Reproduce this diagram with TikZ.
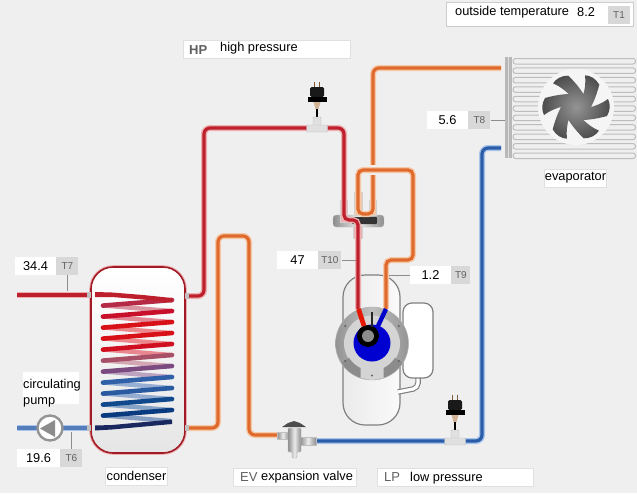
\documentclass[tikz,border=0pt]{standalone}
\usepackage{fontspec}
\setmainfont{Liberation Sans}
\usepackage{xcolor}
\usetikzlibrary{positioning}
\usetikzlibrary{calc}
\definecolor{bggray}{HTML}{EFEFEF}
\definecolor{taggray}{HTML}{D8D8D8}
\definecolor{tagtext}{HTML}{606060}
\definecolor{hotred}{HTML}{BE1F2C}
\definecolor{hotedge}{HTML}{EDB0B0}
\definecolor{warmorange}{HTML}{DF6A2C}
\definecolor{warmedge}{HTML}{F5C8A8}
\definecolor{coldblue}{HTML}{2A5CA8}
\definecolor{coldedge}{HTML}{A8C4EA}
\definecolor{coilnavy}{HTML}{1A2860}
\tikzset{
	x=1pt, y=-1pt,
	every node/.style={font=\fontsize{12.8}{16}\selectfont, inner sep=0pt},
	hotpipe/.style={line width=3.2pt, draw=hotred, rounded corners=6pt, preaction={draw=hotedge, line width=6pt}},
	warmpipe/.style={line width=3.2pt, draw=warmorange, rounded corners=6pt, preaction={draw=warmedge, line width=6pt}},
	coldpipe/.style={line width=3.2pt, draw=coldblue, rounded corners=6pt, preaction={draw=coldedge, line width=6pt}},
	valbox/.style={fill=white, minimum height=18pt},
	tagbox/.style={fill=taggray, minimum height=18pt, text=tagtext, font=\fontsize{10}{12}\selectfont},
	labelbox/.style={fill=white, draw=black!12, line width=0.7pt, minimum height=18pt},
	codetext/.style={text=tagtext, font=\fontsize{13}{16}\selectfont},
	leader/.style={draw=black!45, line width=0.8pt},
	sleeve/.style={draw=black!18, line width=0.5pt},
	metal/.style={left color=black!45, right color=black!45, middle color=black!8, draw=black!25, line width=0.4pt},
}
\begin{document}
\begin{tikzpicture}
	\useasboundingbox (0,0) rectangle (637,493);
	\fill[bggray] (0,0) rectangle (637,493);

	% draw compressor
	\draw[draw=black!50, line width=1.2pt, left color=black!8, right color=black!2, rounded corners=22pt] (343,275) rectangle (400,425);
	\draw[draw=black!50, line width=5.5pt, rounded corners=5pt] (418,375) -- (418,388) -- (398,392);
	\draw[draw=white, line width=3.2pt, rounded corners=5pt] (418,375) -- (418,388) -- (398,392);
	\draw[draw=black!50, line width=1.2pt, fill=white, rounded corners=9pt] (403,303) rectangle (433,378);

	% draw condenser
	\draw[draw=hotedge, line width=3.6pt, rounded corners=22pt] (91,267) rectangle (185,453);
	\draw[draw=hotred!85!black, line width=1.6pt, top color=white, bottom color=black!10, rounded corners=22pt] (91,267) rectangle (185,453);

	% draw coil, pale strands at the back
	\foreach \i/\rowcol in {0/B52B45,1/C8102A,2/D81018,3/D81018,4/D01020,5/A85068,6/7A4A80,7/3060A8,8/2A5AA0,9/104A8C,10/0A3A80} {
		\definecolor{rowcolor}{HTML}{\rowcol}
		\draw[rowcolor!50, line width=4.4pt] (105,{305.6+11*\i}) -- (171,{311+11*\i});
	}
	\foreach \i/\rowcol in {0/B52B45,1/C8102A,2/D81018,3/D81018,4/D01020,5/A85068,6/7A4A80,7/3060A8,8/2A5AA0,9/104A8C,10/0A3A80} {
		\definecolor{rowcolor}{HTML}{\rowcol}
		\draw[rowcolor, line width=4.6pt, line cap=round] (103,{305.6+11*\i}) -- (172,{300+11*\i});
	}
	\fill[hotred] (95,292) -- (112,292.5) -- (143,295) -- (172,298) -- (172,302.5) -- (143,299.5) -- (112,297) -- (95,297) -- cycle;
	\fill[coilnavy] (95,425.5) -- (112,425) -- (172,419.5) -- (172,424) -- (112,429.5) -- (95,430.5) -- cycle;

	% draw water lines
	\draw[hotpipe] (17,295) -- (87,295);
	\draw[coldpipe, draw=coldblue!80!white] (17,428) -- (87,428);
	\fill[black!25] (87,292) rectangle (91,298);
	\fill[black!25] (87,425) rectangle (91,431);
	\fill[black!25] (185,293) rectangle (190,299);
	\fill[black!25] (185,425) rectangle (190,431);

	% draw refrigerant lines
	\draw[warmpipe] (501,68) -- (373,68) -- (373,200);
	\draw[hotpipe] (189,296) -- (204,296) -- (204,128) -- (344,128) -- (344,200);
	\draw[warmpipe] (189,428) -- (218,428) -- (218,236) -- (249,236) -- (249,435) -- (277,435);
	\draw[coldpipe] (316,441) -- (482,441) -- (482,148) -- (501,148);

	% draw four way valve
	\draw[metal, rounded corners=3pt] (333,215) rectangle (384,227);
	\fill[black!80, rounded corners=1pt] (352,217) rectangle (377,224);
	\draw[bggray, line width=10pt] (364,170) -- (381,170);
	\draw[sleeve, fill=hotedge] (340,200) rectangle (347.5,222);
	\draw[sleeve, fill=warmedge] (354.5,192) rectangle (362,215);
	\draw[sleeve, fill=warmedge] (369,200) rectangle (376,215);
	\draw[sleeve, fill=hotedge] (353,226) rectangle (362,238);
	\draw[warmpipe, rounded corners=5pt] (373,200) -- (373,214) -- (358,214) -- (358,170) -- (413,170) -- (413,260) -- (386,260) -- (386,309);
	\draw[hotpipe, rounded corners=5pt] (344,200) -- (344,220) -- (358,220) -- (358,309);

	% draw motor disc
	\draw[black!30, left color=black!42, right color=black!42, middle color=black!25, line width=0.5pt] (372,343.5) circle (36.5);
	\fill[black!17] (372,343.5) circle (28);
	\foreach \from/\to in {100/148,32/80} {
		\fill[black!45] plot[domain=\from:\to, samples=12] ({372+36*cos(\x)},{343.5+36*sin(\x)}) -- plot[domain=\to:\from, samples=12] ({372+27*cos(\x)},{343.5+27*sin(\x)}) -- cycle;
	}
	\fill[black!17] (360.5,363) -- (383.5,363) -- (383.5,378) -- (372,380) -- (360.5,378) -- cycle;
	\foreach \a in {-147,-33,33,147,90} {
		\fill[black!60] ({372+32*cos(\a)},{343.5+32*sin(\a)}) circle (1.2);
	}
	\fill[blue!82!black] (372,343) circle (18.5);
	\fill[black] (368,336) circle (11);
	\fill[black!45] (368,336) circle (6);
	\draw[black!85, line width=2.6pt] (372,312) -- (372,327);
	\draw[red!80!orange!90!black, line width=4.8pt] (358.5,309) -- (364,326);
	\draw[blue!80!black, line width=4.4pt] (386,309) -- (378,326);

	% draw pressure sensors
	\foreach \sx/\sy in {317/117,455/430} {
		\draw[black!50!orange!60!gray, line width=1.2pt] (\sx-2.5,\sy-35) -- (\sx-2.5,\sy-30);
		\draw[black!50!orange!60!gray, line width=1.2pt] (\sx+2.5,\sy-35) -- (\sx+2.5,\sy-30);
		\fill[black!90, rounded corners=1.5pt] (\sx-7,\sy-30) rectangle (\sx+7,\sy-20);
		\fill[black] (\sx-9.5,\sy-20) rectangle (\sx+9.5,\sy-15);
		\fill[orange!40!gray!60] (\sx-3.5,\sy-15) -- (\sx+3.5,\sy-15) -- (\sx+1.5,\sy-8) -- (\sx-1.5,\sy-8) -- cycle;
		\draw[black, line width=1.2pt] (\sx,\sy-8) -- (\sx,\sy);
		\fill[black!12, draw=black!25, line width=0.4pt, rounded corners=1pt] (\sx-4,\sy) rectangle (\sx+4,\sy+9);
		\fill[black!12, draw=black!25, line width=0.4pt, rounded corners=1pt] (\sx-10.5,\sy+8) rectangle (\sx+10.5,\sy+15);
	}

	% draw expansion valve
	\draw[metal] (277,432) rectangle (289,439);
	\draw[metal] (300,437) rectangle (316,445);
	\draw[metal, rounded corners=1pt] (288,428) -- (301,428) -- (301,452) -- (297,452) -- (297,458) -- (292,458) -- (292,452) -- (288,452) -- cycle;
	\fill[black!70] (282,427) -- (288,423) -- (294,421) -- (300,423) -- (306,427) -- cycle;

	% draw circulating pump
	\draw[black!42, line width=2.4pt, fill=white] (50,428) circle (12.5);
	\fill[black!45] (40,428.5) -- (55,420) -- (55,437) -- cycle;

	% draw evaporator
	\foreach \row in {0,...,10} {
		\draw[black!26, line width=1pt, rounded corners=2.5pt] (513,{58.5+9.45*\row}) rectangle (635.5,{64+9.45*\row});
	}
	\fill[black!28] (505,57) rectangle (512,158);
	\draw[bggray!60!black!30, line width=0.6pt] (508.5,57) -- (508.5,158);
	\fill[black!4] (576,107) circle (38);
	\begin{scope}[shift={(576,107)}]
		\clip foreach \a in {0,60,...,300} { {[rotate=\a] (0,0) -- (13.5,0.5) .. controls (19,-1) and (26,-3.5) .. (32,-8) .. controls (34.5,-3) and (34.5,3) .. (31,9) .. controls (24,11) and (14,13) .. (6,13) -- cycle} };
		\shade[inner color=black!42, outer color=black!72] (0,0) circle (36);
	\end{scope}

	% draw sensor labels
	\node[valbox, minimum width=41pt] (T7val) at (35.5,266) {34.4};
	\node[tagbox, minimum width=22pt, right=0pt of T7val] (T7tag) {T7};
	\coordinate (T7tip) at (T7tag.south |- 0,291);
	\draw[leader] (T7tag.south) -- (T7tip);
	\node[valbox, minimum width=43pt] (T6val) at (38.5,458) {19.6};
	\node[tagbox, minimum width=22pt, right=0pt of T6val] (T6tag) {T6};
	\coordinate (T6tip) at (T6tag.north |- 0,432);
	\draw[leader] (T6tag.north) -- (T6tip);
	\node[valbox, minimum width=41pt] (T8val) at (447.5,120) {5.6};
	\node[tagbox, minimum width=22pt, right=0pt of T8val] (T8tag) {T8};
	\coordinate (T8tip) at (505,120);
	\draw[leader] (T8tag.east) -- (T8tip);
	\node[valbox, minimum width=41pt] (T10val) at (297.5,260) {47};
	\node[tagbox, minimum width=23pt, right=0pt of T10val] (T10tag) {T10};
	\coordinate (T10tip) at (356,260);
	\draw[leader] (T10tag.east) -- (T10tip);
	\node[valbox, minimum width=41pt] (T9val) at (430.5,275) {1.2};
	\node[tagbox, minimum width=19pt, right=0pt of T9val] (T9tag) {T9};
	\coordinate (T9tip) at (389,275);
	\draw[leader] (T9val.west) -- (T9tip);

	% draw name labels
	\node[labelbox, minimum width=62pt] (condenserbox) at (136.5,476) {condenser};
	\node[labelbox, minimum width=62pt] (evapbox) at (575.5,178) {evaporator};
	\node[fill=white, minimum width=56pt, minimum height=32pt] (pumpbox) at (51,388) {};
	\node[anchor=west, align=left] (pumptext) at (23,393.5) {circulating\\pump};
	\node[labelbox, minimum width=167pt] (HPbox) at (266.5,49) {};
	\node[codetext, anchor=west] (HPcode) at (189,50) {\textbf{HP}};
	\node[anchor=west] (HPtext) at (220,48) {high pressure};
	\node[labelbox, minimum width=123pt] (EVbox) at (294.5,477) {};
	\node[codetext, anchor=west] (EVcode) at (240,477) {EV};
	\node[anchor=west] (EVtext) at (261,477) {expansion valve};
	\node[labelbox, minimum width=156pt] (LPbox) at (455,477) {};
	\node[codetext, anchor=west] (LPcode) at (384,477) {LP};
	\node[anchor=west] (LPtext) at (410,478) {low pressure};
	\node[fill=white, draw=black!20, line width=1.6pt, minimum width=187pt, minimum height=24pt] (T1box) at (540,14.5) {};
	\node[tagbox, minimum width=22pt] (T1tag) at (619,15) {T1};
	\node[anchor=west] (T1text) at (455,12) {outside temperature};
	\node[anchor=west] (T1val) at (577,12) {8.2};
\end{tikzpicture}
\end{document}
